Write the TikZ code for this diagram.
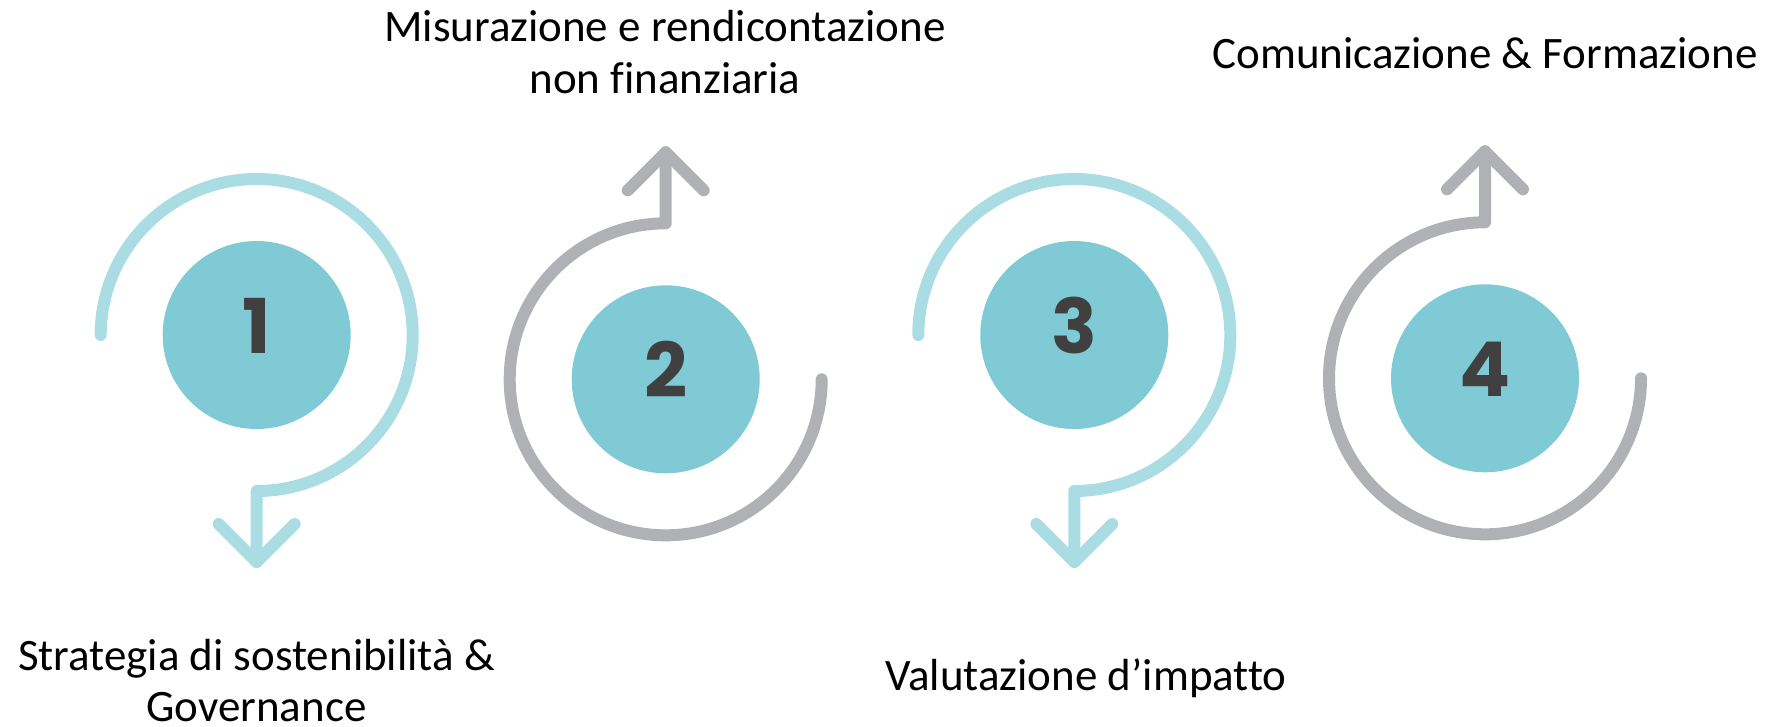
\documentclass[tikz,border=0pt]{standalone}
\usepackage{fontspec}
\setmainfont{Carlito}[Ligatures=NoCommon]
\newfontfamily\numfont{Poppins}
\usepackage{tikz}
\usetikzlibrary{positioning}

\definecolor{ringblue}{HTML}{A9DCE3}
\definecolor{ringgray}{HTML}{B0B1B5}
\definecolor{discblue}{HTML}{80CAD5}
\definecolor{digitgray}{HTML}{404040}

\tikzset{
	disc/.style={circle, fill=discblue, minimum size=1.88cm, inner sep=0pt, text=digitgray,
		font=\numfont\bfseries\fontsize{21.5}{21.5}\selectfont, text height=0.57cm, text depth=0.2cm},
	ring/.style={line width=0.12cm, line cap=round, line join=round},
	caption/.style={font=\fontsize{12.8}{14.7}\selectfont, align=center, anchor=base, inner sep=0pt}
}

\begin{document}
\begin{tikzpicture}
	\useasboundingbox (0,0) rectangle (17.76,7.26);

	\node[disc] (c1) at (2.567,3.91) {1};
	\draw[ring, ringblue] (c1.center) ++(-1.56,0) arc[start angle=180, end angle=-90, radius=1.56] -- ++(0,-0.71) coordinate (t1);
	\draw[ring, ringblue] (t1) ++(-0.38,0.38) -- (t1) -- ++(0.38,0.38);
	\node[caption] (s1) at (2.565,0.043) {Strategia di sostenibilità \&\\Governance};

	\node[disc] (c2) at (6.657,3.467) {2};
	\draw[ring, ringgray] (c2.center) ++(1.56,0) arc[start angle=0, end angle=-270, radius=1.56] -- ++(0,0.71) coordinate (t2);
	\draw[ring, ringgray] (t2) ++(-0.38,-0.38) -- (t2) -- ++(0.38,-0.38);
	\node[caption] (s2) at (6.65,6.327) {Misurazione e rendicontazione\\non finanziaria};

	\node[disc] (c3) at (10.743,3.91) {3};
	\draw[ring, ringblue] (c3.center) ++(-1.56,0) arc[start angle=180, end angle=-90, radius=1.56] -- ++(0,-0.71) coordinate (t3);
	\draw[ring, ringblue] (t3) ++(-0.38,0.38) -- (t3) -- ++(0.38,0.38);
	\node[caption] (s3) at (10.86,0.36) {Valutazione d’impatto};

	\node[disc] (c4) at (14.85,3.477) {4};
	\draw[ring, ringgray] (c4.center) ++(1.56,0) arc[start angle=0, end angle=-270, radius=1.56] -- ++(0,0.71) coordinate (t4);
	\draw[ring, ringgray] (t4) ++(-0.38,-0.38) -- (t4) -- ++(0.38,-0.38);
	\node[caption] (s4) at (14.85,6.577) {Comunicazione \& Formazione};
\end{tikzpicture}
\end{document}
